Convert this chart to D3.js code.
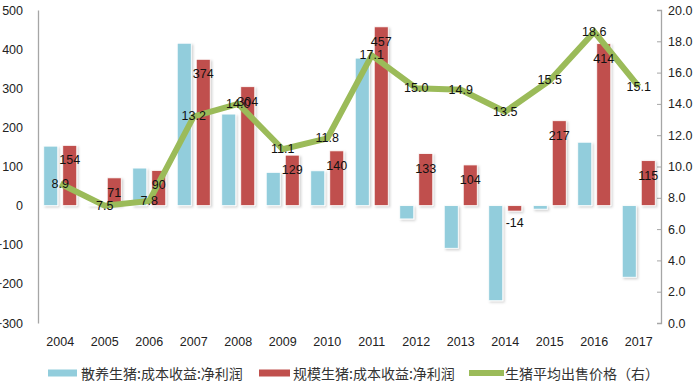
<!DOCTYPE html>
<html><head><meta charset="utf-8">
<script src="https://cdn.jsdelivr.net/npm/d3@7"></script>
<style>body{margin:0;background:#fff}svg{display:block}</style>
</head><body><svg id="c" width="700" height="381"></svg>
<script>
const years = ["2004","2005","2006","2007","2008","2009","2010","2011","2012","2013","2014","2015","2016","2017"];
const smallFarm = [152, 2, 96, 415, 234, 85, 89, 377, -34, -109, -243, -9, 162, -183];
const largeFarm = [154, 71, 90, 374, 304, 129, 140, 457, 133, 104, -14, 217, 414, 115];
const price = [8.9, 7.5, 7.8, 13.2, 14.0, 11.1, 11.8, 17.1, 15.0, 14.9, 13.5, 15.5, 18.6, 15.1];
const leftTicks = [-300, -200, -100, 0, 100, 200, 300, 400, 500];
const rightTicks = [0, 2, 4, 6, 8, 10, 12, 14, 16, 18, 20];
const seriesNames = ["散养生猪:成本收益:净利润", "规模生猪:成本收益:净利润", "生猪平均出售价格（右）"];
const colors = ["#92CDDC", "#C0504D", "#9BBB59"];

const svg = d3.select("#c");
const L = 38, R = 661, T = 10, B = 323;
const x = d3.scaleBand().domain(years).range([L, R]).padding(0);
const yL = d3.scaleLinear().domain([-300, 500]).range([B, T]);
const yR = d3.scaleLinear().domain([0, 20]).range([B, T]);
const font = "'Liberation Sans', Arial, sans-serif";

const defs = svg.append("defs");
const f = defs.append("filter").attr("id","sh").attr("x","-30%").attr("y","-30%").attr("width","160%").attr("height","160%");
f.append("feDropShadow").attr("dx",1.5).attr("dy",1.5).attr("stdDeviation",1).attr("flood-color","#000").attr("flood-opacity",0.18);

// left axis
const la = svg.append("g").attr("transform",`translate(${L},0)`)
  .call(d3.axisLeft(yL).tickValues(leftTicks).tickSize(0).tickPadding(15).tickFormat(d3.format("d")));
la.select(".domain").attr("stroke","#A6A6A6").attr("stroke-width",1.3);
la.selectAll("text").attr("font-family",font).attr("font-size",12.5).attr("fill","#222");

// right axis
const ra = svg.append("g").attr("transform",`translate(${R},0)`)
  .call(d3.axisRight(yR).tickValues(rightTicks).tickSizeInner(-4).tickSizeOuter(-4).tickPadding(7).tickFormat(d3.format(".1f")));
ra.select(".domain").attr("stroke","#A6A6A6").attr("stroke-width",1.3);
ra.selectAll(".tick line").attr("stroke","#A6A6A6");
ra.selectAll("text").attr("font-family",font).attr("font-size",12.5).attr("fill","#222");

// x labels
const xa = svg.append("g").attr("transform",`translate(0,${B})`)
  .call(d3.axisBottom(x).tickSize(0).tickPadding(14));
xa.select(".domain").remove();
xa.selectAll("text").attr("font-family",font).attr("font-size",12.5).attr("fill","#222");

const bw = 14;
const gb = svg.append("g").attr("filter","url(#sh)");
gb.selectAll("rect.s").data(years).enter().append("rect")
  .attr("x", d => x(d) + x.bandwidth()/2 - 16.5)
  .attr("width", bw)
  .attr("y", (d,i) => yL(Math.max(0, smallFarm[i])))
  .attr("height", (d,i) => Math.abs(yL(smallFarm[i]) - yL(0)))
  .attr("fill", colors[0]).attr("stroke","#fff").attr("stroke-width",0.8);
gb.selectAll("rect.l").data(years).enter().append("rect")
  .attr("x", d => x(d) + x.bandwidth()/2 + 2.5)
  .attr("width", bw)
  .attr("y", (d,i) => yL(Math.max(0, largeFarm[i])))
  .attr("height", (d,i) => Math.abs(yL(largeFarm[i]) - yL(0)))
  .attr("fill", colors[1]).attr("stroke","#fff").attr("stroke-width",0.8);

// zero line
svg.append("line").attr("x1",L).attr("x2",R).attr("y1",yL(0)).attr("y2",yL(0))
  .attr("stroke","#A6A6A6").attr("stroke-width",2).attr("filter","url(#sh)");

// line
const line = d3.line().x((d,i) => x(years[i]) + x.bandwidth()/2).y(d => yR(d));
svg.append("path").datum(price).attr("d", line).attr("fill","none")
  .attr("stroke", colors[2]).attr("stroke-width",6).attr("stroke-linejoin","miter");

// bar labels (large farm)
svg.append("g").selectAll("text").data(largeFarm).enter().append("text")
  .attr("x", (d,i) => x(years[i]) + x.bandwidth()/2 + 9.5)
  .attr("y", d => d >= 0 ? yL(d) + 15 : yL(d) + 12)
  .attr("text-anchor","middle").attr("dominant-baseline","central")
  .attr("font-family",font).attr("font-size",12.5).attr("fill","#111")
  .text(d => d);

// line labels
svg.append("g").selectAll("text").data(price).enter().append("text")
  .attr("x", (d,i) => x(years[i]) + x.bandwidth()/2)
  .attr("y", d => yR(d))
  .attr("text-anchor","middle").attr("dominant-baseline","central")
  .attr("font-family",font).attr("font-size",12.5).attr("fill","#111")
  .text(d => d.toFixed(1));

// legend
const lg = svg.append("g").attr("font-family","'Noto Sans CJK SC', sans-serif").attr("font-size",14).attr("fill","#333");
const legItems = [
  {sx:48, sw:29, tx:81, type:"rect"},
  {sx:259, sw:31, tx:293, type:"rect"},
  {sx:469, sw:35, tx:505, type:"line"}
];
const ly = 373;
legItems.forEach((it,i) => {
  if (it.type === "rect") {
    lg.append("rect").attr("x",it.sx).attr("y",ly-3.5).attr("width",it.sw).attr("height",7).attr("fill",colors[i]);
  } else {
    lg.append("line").attr("x1",it.sx).attr("x2",it.sx+it.sw).attr("y1",ly).attr("y2",ly).attr("stroke",colors[i]).attr("stroke-width",6);
  }
  lg.append("text").attr("x",it.tx).attr("y",ly).attr("dominant-baseline","central").text(seriesNames[i]);
});
</script></body></html>
